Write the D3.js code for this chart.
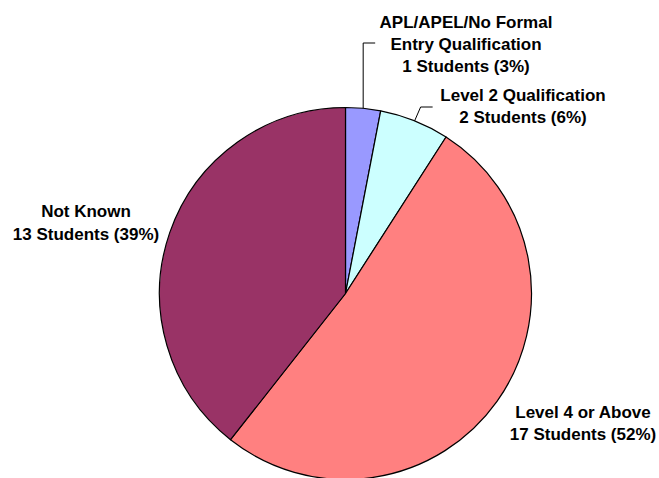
<!DOCTYPE html>
<html>
<head>
<meta charset="utf-8">
<script src="https://cdn.jsdelivr.net/npm/d3@7"></script>
<style>
  html, body { margin: 0; padding: 0; background: #fff; }
  svg { display: block; }
  text { font-family: Arial, "Liberation Sans", sans-serif; font-weight: bold; font-size: 17px; fill: #000; }
</style>
</head>
<body>
<svg id="chart" width="659" height="478"></svg>
<script>
const categories = ["APL/APEL/No Formal Entry Qualification", "Level 2 Qualification", "Level 4 or Above", "Not Known"];
const values = [1, 2, 17, 13];
const colors = ["#9999FF", "#CCFFFF", "#FF8080", "#993366"];

// label layout (text lines, anchor centre x, first baseline y)
const labelLines = [
  ["APL/APEL/No Formal", "Entry Qualification"],
  ["Level 2 Qualification"],
  ["Level 4 or Above"],
  ["Not Known"]
];
const labelPos = [
  {x: 466, y: 28, dy: 22},
  {x: 523, y: 101, dy: 22},
  {x: 583, y: 418, dy: 22},
  {x: 86, y: 217, dy: 23}
];

const svg = d3.select("#chart");
const cx = 345.5, cy = 293.5, r = 186;
const total = d3.sum(values);

const pie = d3.pie().sort(null).value(d => d).startAngle(0).endAngle(2 * Math.PI);
const arcs = pie(values);
const arc = d3.arc().innerRadius(0).outerRadius(r);

const g = svg.append("g").attr("transform", `translate(${cx},${cy})`);
g.selectAll("path").data(arcs).enter().append("path")
  .attr("d", arc)
  .attr("fill", (d, i) => colors[i])
  .attr("stroke", "#000")
  .attr("stroke-width", 1.2)
  .attr("stroke-linejoin", "round");

// leader lines for the two small slices
function edgePoint(a) {
  const mid = (a.startAngle + a.endAngle) / 2;
  return [cx + r * Math.sin(mid), cy - r * Math.cos(mid)];
}
const p0 = edgePoint(arcs[0]);
svg.append("polyline")
  .attr("points", [[p0[0], p0[1]], [p0[0], 43], [p0[0] + 12, 43]].map(p => p.join(",")).join(" "))
  .attr("fill", "none").attr("stroke", "#000").attr("stroke-width", 1);
const p1 = edgePoint(arcs[1]);
svg.append("polyline")
  .attr("points", [[p1[0], p1[1]], [p1[0] + 6, 107], [p1[0] + 18, 107]].map(p => p.join(",")).join(" "))
  .attr("fill", "none").attr("stroke", "#000").attr("stroke-width", 1);

// labels
arcs.forEach((a, i) => {
  const pct = Math.round(values[i] / total * 100);
  const lines = labelLines[i].concat([`${values[i]} Students (${pct}%)`]);
  const pos = labelPos[i];
  const t = svg.append("text").attr("text-anchor", "middle");
  lines.forEach((ln, k) => {
    t.append("tspan").attr("x", pos.x).attr("y", pos.y + k * pos.dy).text(ln);
  });
});
</script>
</body>
</html>
